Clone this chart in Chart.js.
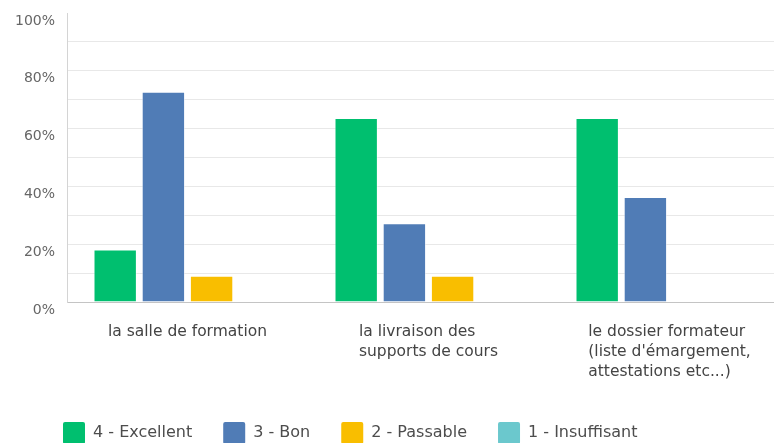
<!DOCTYPE html>
<html>
<head>
<meta charset="utf-8">
<script src="https://cdn.jsdelivr.net/npm/chart.js@4"></script>
<style>
  html, body { margin: 0; padding: 0; background: #fff; overflow: hidden; }
  #wrap { position: relative; width: 790px; height: 443px; }
</style>
</head>
<body>
<div id="wrap"><canvas id="chart"></canvas></div>
<script>
// categories (one entry per line of the wrapped label)
const categories = [
  ['la salle de formation'],
  ['la livraison des', 'supports de cours'],
  ['le dossier formateur', "(liste d'émargement,", 'attestations etc...)']
];
const seriesNames = ['4 - Excellent', '3 - Bon', '2 - Passable', '1 - Insuffisant'];
const excellent = [18.18, 63.64, 63.64];
const bon = [72.73, 27.27, 36.36];
const passable = [9.09, 9.09, 0];
const insuffisant = [0, 0, 0];
const yLabelStep = 20;   // labels every 20%, grid every 10%
const colors = ['#00bf6f', '#507cb6', '#f9be00', '#6bc8cd'];

const FONT = '"DejaVu Sans", sans-serif';

// draws the wrapped x labels as a centred block with left aligned lines
const xLabelPlugin = {
  id: 'xLabels',
  afterDraw(chart) {
    const ctx = chart.ctx;
    const xScale = chart.scales.x;
    ctx.save();
    ctx.font = '15.5px ' + FONT;
    ctx.fillStyle = '#444444';
    ctx.textAlign = 'left';
    ctx.textBaseline = 'alphabetic';
    chart.data.labels.forEach((lines, i) => {
      const w = Math.max(...lines.map(l => ctx.measureText(l).width));
      const x = xScale.getPixelForValue(i) - w / 2;
      lines.forEach((l, j) => ctx.fillText(l, x, xScale.top + 34 + j * 20));
    });
    ctx.restore();
  }
};

// legend sits left aligned under the labels
const legendShift = {
  id: 'legendShift',
  beforeDraw(chart) {
    const pad = chart.options.plugins.legend.labels.padding;
    chart.legend.left = 63 - pad;
    chart.legend.top = 422 - pad;
  }
};

const datasets = [excellent, bon, passable, insuffisant].map((data, i) => ({
  label: seriesNames[i],
  data: data,
  backgroundColor: colors[i],
  borderColor: 'rgba(255,255,255,0.5)',
  borderWidth: 1,
  categoryPercentage: 0.8,
  barPercentage: 0.9
}));

new Chart(document.getElementById('chart'), {
  type: 'bar',
  data: { labels: categories, datasets: datasets },
  plugins: [xLabelPlugin, legendShift],
  options: {
    responsive: true,
    maintainAspectRatio: false,
    animation: false,
    layout: { padding: { top: 13, left: 0, right: 0, bottom: 0 } },
    plugins: {
      tooltip: { enabled: false },
      legend: {
        position: 'bottom',
        align: 'start',
        labels: {
          boxWidth: 22,
          boxHeight: 22,
          padding: 31,
          color: '#4d4d4d',
          font: { family: FONT, size: 16 },
          useBorderRadius: true,
          borderRadius: 2,
          generateLabels: chart => chart.data.datasets.map((ds, i) => ({
            text: ds.label,
            fillStyle: ds.backgroundColor,
            strokeStyle: ds.backgroundColor,
            fontColor: '#4d4d4d',
            lineWidth: 0,
            borderRadius: 2,
            datasetIndex: i
          }))
        }
      }
    },
    scales: {
      x: {
        grid: { display: false },
        border: { color: '#c4c4c4', width: 1 },
        ticks: { display: false },
        afterFit: scale => { scale.height = 443 - 302 - scale.chart.legend.height; }
      },
      y: {
        min: 0,
        max: 100,
        border: { color: '#d4d4d4', width: 1 },
        grid: {
          drawTicks: false,
          color: c => c.tick.value === 100 ? 'rgba(0,0,0,0)' : (c.tick.value === 0 ? '#c4c4c4' : '#e8e8e8')
        },
        ticks: {
          stepSize: 10,
          padding: 12,
          labelOffset: 8,
          color: '#666666',
          font: { family: FONT, size: 14 },
          callback: v => v % yLabelStep === 0 ? v + '%' : ''
        },
        afterFit: scale => {
          scale.width = 67;
          scale.paddingTop = 0;
          scale.paddingBottom = 0;
        }
      }
    }
  }
});
</script>
</body>
</html>
